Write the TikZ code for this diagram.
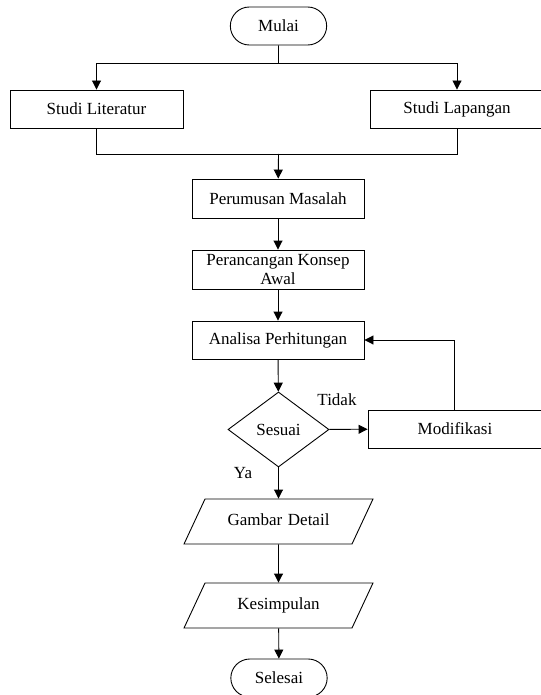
\documentclass[tikz,border=0pt]{standalone}
\usepackage{fontspec}
\setmainfont{Liberation Serif}
\usetikzlibrary{arrows.meta, shapes.geometric, shapes.misc}

\begin{document}
\begin{tikzpicture}[x=1pt, y=-1pt, line width=0.9pt, font=\fontsize{17}{19}\selectfont]

\tikzset{box/.style = {shape=rectangle, draw, minimum width=173pt, minimum height=38pt, align=center}}
\tikzset{term/.style = {shape=rounded rectangle, draw, minimum width=103pt, minimum height=38pt}}
\tikzset{decision/.style = {shape=diamond, draw, minimum width=101pt, minimum height=75pt, inner sep=0pt}}
\tikzset{io/.style = {shape=trapezium, trapezium left angle=65, trapezium right angle=115, draw, text width=125pt, align=center, text height=12pt, text depth=4pt, inner xsep=11pt, inner ysep=14.5pt}}
\tikzset{connector/.style = {-{Triangle[length=9pt,width=9pt]}}}

\useasboundingbox (0,0) rectangle (540,695);

%nodes
\node[term] (mulai) at (278.5,26) {Mulai};
\node[box] (lit) at (96.5,109) {Studi Literatur};
\node[box] (lap) at (457,109) {Studi Lapangan};
\node[box, minimum width=172pt, minimum height=39pt] (rumus) at (278,198.5) {Perumusan Masalah};
\node[box, minimum width=172pt, minimum height=39pt] (rancang) at (278,269.5) {Perancangan Konsep\\Awal};
\node[box, minimum width=172pt] (analisa) at (278,340) {Analisa Perhitungan};
\node[decision] (sesuai) at (278.5,429.5) {Sesuai};
\node[box, minimum width=174pt] (modif) at (455,429) {Modifikasi};
\node[io] (gambar) at (278.5,521.5) {Gambar Detail};
\node[io] (simpul) at (278.5,605.5) {Kesimpulan};
\node[term] (selesai) at (279,678) {Selesai};

%labels
\node (tidak) at (337,400) {Tidak};
\node (ya) at (243,473) {Ya};

\coordinate (split) at (278.5,63);
\coordinate (join) at (278.5,154);

%edges
\draw (mulai) -- (split);
\draw[connector] (split) -| (lit);
\draw[connector] (split) -| (lap);
\draw (lit) |- (join);
\draw (lap) |- (join);
\draw[connector] (join) -- (rumus);
\draw[connector] (rumus) -- (rancang);
\draw[connector] (rancang) -- (analisa);
\draw[connector] (analisa) -- (sesuai);
\draw[connector] (sesuai) -- (modif);
\draw[connector] (modif.north -| 454,0) |- (analisa);
\draw[connector] (sesuai) -- (gambar);
\draw[connector] (gambar) -- (simpul);
\draw[connector] (simpul) -- (selesai);

\end{tikzpicture}
\end{document}
